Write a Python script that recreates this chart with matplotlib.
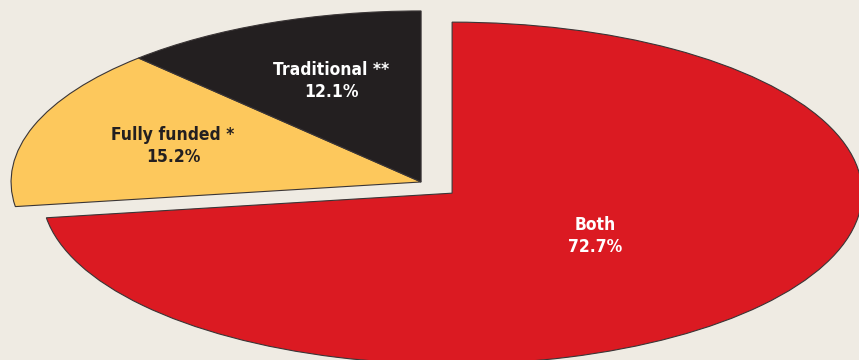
import matplotlib.pyplot as plt
import numpy as np

# slice data
labels = ['Both', 'Fully funded *', 'Traditional **']
shares = [72.7, 15.2, 12.1]
colors = ['#db1a22', '#fdc85c', '#231f20']
text_colors = ['white', '#231f20', 'white']
label_radius = [0.43, 0.64, 0.63]
label_shift = [5, 0, -1.5]   # small angular nudge (deg) per label
explode = [0.1, 0, 0]

BG = '#efebe3'

fig = plt.figure(figsize=(8.59, 3.6), dpi=100, facecolor=BG)
ax = fig.add_axes([0, 0, 1, 1])
ax.set_facecolor(BG)

wedges, _ = ax.pie(shares, colors=colors, explode=explode, startangle=90,
                   counterclock=False,
                   wedgeprops=dict(edgecolor='#3a3536', linewidth=0.8))

# stretch the circle into the flat ellipse of the original
ax.set_aspect('auto')
ax.set_xlim(-1.027, 1.068)
ax.set_ylim(-1.041, 1.064)
ax.axis('off')

for w, lab, val, tc, r, sh in zip(wedges, labels, shares, text_colors,
                                  label_radius, label_shift):
    mid = np.deg2rad((w.theta1 + w.theta2) / 2 + sh)
    cx, cy = w.center
    ax.text(cx + r * np.cos(mid), cy + r * np.sin(mid),
            f'{lab}\n{val:.1f}%', ha='center', va='center',
            color=tc, fontsize=12.5, fontweight='bold',
            family='DejaVu Sans', fontstretch='condensed',
            linespacing=1.25)

fig.savefig('out.png', dpi=100, facecolor=BG)
